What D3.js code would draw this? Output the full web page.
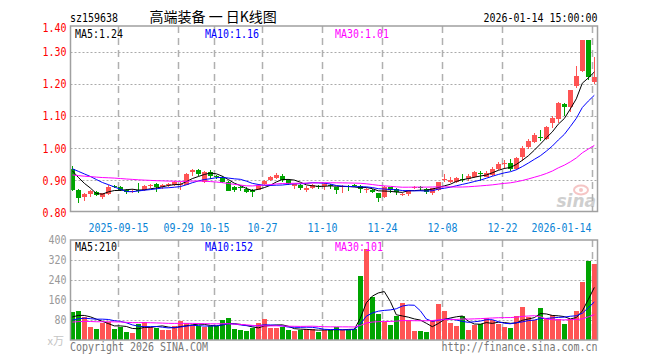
<!DOCTYPE html>
<html lang="zh-CN">
<head>
<meta charset="UTF-8">
<title>高端装备 一 日K线图</title>
<style>
  html, body { margin: 0; padding: 0; background: #fff; }
  svg { display: block; }
  .mono { font-family: "DejaVu Sans Mono", "Liberation Mono", monospace; font-size: 12px; }
</style>
</head>
<body>
<svg id="chart" width="660" height="360"></svg>
<script src="https://d3js.org/d3.v7.min.js"></script>
<script>
// trading days shown on the chart
const dates = [
  "2025-09-03","2025-09-04","2025-09-05","2025-09-08","2025-09-09","2025-09-10","2025-09-11","2025-09-12",
  "2025-09-15","2025-09-16","2025-09-17","2025-09-18","2025-09-19","2025-09-22","2025-09-23","2025-09-24",
  "2025-09-25","2025-09-26","2025-09-29","2025-09-30",
  "2025-10-09","2025-10-10","2025-10-13","2025-10-14","2025-10-15","2025-10-16","2025-10-17","2025-10-20",
  "2025-10-21","2025-10-22","2025-10-23","2025-10-24","2025-10-27","2025-10-28","2025-10-29","2025-10-30","2025-10-31",
  "2025-11-03","2025-11-04","2025-11-05","2025-11-06","2025-11-07","2025-11-10","2025-11-11","2025-11-12",
  "2025-11-13","2025-11-14","2025-11-17","2025-11-18","2025-11-19","2025-11-20","2025-11-21","2025-11-24",
  "2025-11-25","2025-11-26","2025-11-27","2025-11-28",
  "2025-12-01","2025-12-02","2025-12-03","2025-12-04","2025-12-05","2025-12-08","2025-12-09","2025-12-10",
  "2025-12-11","2025-12-12","2025-12-15","2025-12-16","2025-12-17","2025-12-18","2025-12-19","2025-12-22",
  "2025-12-23","2025-12-24","2025-12-25","2025-12-26","2025-12-29","2025-12-30","2025-12-31",
  "2026-01-05","2026-01-06","2026-01-07","2026-01-08","2026-01-09","2026-01-12","2026-01-13","2026-01-14"
];

const opens = [
  0.936,0.871,0.847,0.859,0.863,0.848,0.859,0.882,0.879,0.871,0.864,0.870,0.871,0.881,0.890,0.878,
  0.884,0.884,0.886,0.886,0.925,0.933,0.895,0.927,0.912,0.908,0.895,0.878,0.878,0.873,0.869,0.871,
  0.890,0.900,0.908,0.914,0.900,0.881,0.887,0.871,0.877,0.882,0.881,0.887,0.878,0.878,0.882,0.884,
  0.882,0.869,0.871,0.860,0.847,0.878,0.873,0.854,0.856,0.875,0.879,0.873,0.860,0.870,0.901,0.895,
  0.895,0.905,0.903,0.909,0.924,0.911,0.917,0.934,0.953,0.955,0.936,0.973,1.004,1.019,1.035,1.027,
  1.079,1.091,1.137,1.127,1.193,1.240,1.336,1.205
];
const highs = [
  0.944,0.874,0.862,0.871,0.867,0.862,0.884,0.886,0.882,0.874,0.872,0.891,0.885,0.890,0.892,0.890,
  0.892,0.898,0.895,0.923,0.935,0.936,0.929,0.933,0.917,0.912,0.897,0.882,0.882,0.878,0.872,0.888,
  0.901,0.913,0.922,0.920,0.903,0.890,0.889,0.881,0.890,0.884,0.893,0.890,0.880,0.884,0.884,0.889,
  0.884,0.876,0.874,0.862,0.882,0.880,0.876,0.860,0.871,0.881,0.881,0.877,0.877,0.895,0.920,0.911,
  0.910,0.920,0.920,0.928,0.930,0.930,0.940,0.957,0.963,0.965,0.973,1.007,1.027,1.046,1.058,1.068,
  1.100,1.145,1.139,1.182,1.255,1.336,1.336,1.282
];
const lows = [
  0.867,0.831,0.837,0.847,0.850,0.842,0.855,0.876,0.866,0.856,0.860,0.862,0.866,0.876,0.864,0.874,
  0.878,0.882,0.871,0.884,0.912,0.912,0.893,0.905,0.905,0.893,0.866,0.864,0.866,0.862,0.847,0.869,
  0.884,0.897,0.904,0.895,0.885,0.873,0.870,0.864,0.874,0.873,0.871,0.873,0.856,0.862,0.866,0.879,
  0.862,0.862,0.860,0.834,0.845,0.862,0.855,0.850,0.851,0.873,0.866,0.856,0.855,0.866,0.895,0.891,
  0.893,0.895,0.898,0.906,0.899,0.910,0.915,0.932,0.936,0.928,0.932,0.961,0.996,1.015,1.021,1.025,
  1.062,1.079,1.100,1.112,1.187,1.236,1.211,1.200
];
const closes = [
  0.871,0.845,0.858,0.867,0.855,0.860,0.880,0.879,0.870,0.865,0.868,0.867,0.882,0.886,0.878,0.886,
  0.888,0.895,0.890,0.921,0.933,0.920,0.927,0.912,0.910,0.895,0.868,0.871,0.875,0.865,0.863,0.886,
  0.898,0.910,0.918,0.900,0.888,0.888,0.877,0.876,0.886,0.880,0.888,0.884,0.871,0.882,0.878,0.882,
  0.873,0.874,0.863,0.845,0.878,0.869,0.863,0.858,0.871,0.879,0.876,0.863,0.875,0.895,0.905,0.901,
  0.907,0.901,0.913,0.926,0.920,0.922,0.936,0.951,0.955,0.936,0.969,1.000,1.021,1.042,1.031,1.066,
  1.093,1.141,1.129,1.180,1.224,1.336,1.222,1.222
];
// volume, 万
const volumes = [
  113,117,91,53,44,69,72,44,53,33,29,65,72,53,50,42,
  42,57,77,67,60,57,52,55,58,80,88,45,42,37,50,68,
  84,50,48,53,40,36,40,44,44,33,40,40,51,40,40,44,
  257,363,173,104,72,60,96,149,80,37,37,32,80,144,116,68,
  56,96,40,60,64,88,80,64,53,48,96,132,91,80,130,88,
  102,84,64,83,116,232,316,304
];
// closes / volumes of the 29 sessions before the window (needed for the moving averages)
const priorCloses = [
  0.905,0.910,0.908,0.902,0.900,0.903,0.906,0.911,0.909,0.904,0.907,0.910,0.912,0.905,0.903,
  0.908,0.910,0.906,0.909,0.912,0.925,0.938,0.946,0.950,0.952,0.948,0.950,0.940,0.940
];
const priorVolumes = [
  62,70,58,75,66,72,60,68,74,65,70,63,69,72,66,71,64,68,70,67,
  70,66,72,64,68,85,92,80,90
];

const priceTicks = [0.80, 0.90, 1.00, 1.10, 1.20, 1.30, 1.40];
const volumeTicks = [80, 160, 240, 320, 400];
const tickDates = ["2025-09-15","2025-09-29","2025-10-15","2025-10-27","2025-11-10","2025-11-24","2025-12-08","2025-12-22","2026-01-14"];
const tickLabels = ["2025-09-15","09-29","10-15","10-27","11-10","11-24","12-08","12-22","2026-01-14"];
const maPeriods = [5, 10, 30];
const maColors = ["#000000", "#0000ff", "#ff00ff"];

const svg = d3.select("#chart");
const frameL = 70.5, frameR = 597.5;
const mainTop = 26, mainBottom = 211.5;
const volTop = 240, volBottom = 340;
const red = "#ff5454", green = "#00a400";

const x = d3.scalePoint().domain(dates).range([72.3, 594.3]);
const y = d3.scaleLinear().domain([0.8, 1.4]).range([212.5, 19.5]);
const yv = d3.scaleLinear().domain([0, 400]).range([volBottom, volTop]);

function movingAverage(prior, values, n) {
  const all = prior.concat(values);
  return values.map((_, i) => d3.mean(all.slice(prior.length + i - n + 1, prior.length + i + 1)));
}

function monoText(g, tx, ty, str, color, anchor) {
  return g.append("text")
    .attr("class", "mono")
    .attr("x", tx).attr("y", ty)
    .attr("fill", color)
    .attr("text-anchor", anchor || "start")
    .attr("textLength", str.length * 6)
    .attr("lengthAdjust", "spacingAndGlyphs")
    .text(str);
}

const candles = dates.map((d, i) => ({
  date: d, o: opens[i], h: highs[i], l: lows[i], c: closes[i], v: volumes[i]
}));
const priceMA = maPeriods.map(n => movingAverage(priorCloses, closes, n));
const volMA = maPeriods.map(n => movingAverage(priorVolumes, volumes, n));

// clip paths for both panels
const defs = svg.append("defs");
defs.append("clipPath").attr("id", "clipMain").append("rect")
  .attr("x", frameL).attr("y", mainTop).attr("width", frameR - frameL).attr("height", mainBottom - mainTop);
defs.append("clipPath").attr("id", "clipVol").append("rect")
  .attr("x", frameL).attr("y", volTop).attr("width", frameR - frameL).attr("height", volBottom - volTop);

// header
monoText(svg, 70, 21.5, "sz159638", "#000");
svg.append("text")
  .attr("x", 149.5).attr("y", 21.5)
  .attr("xml:space", "preserve")
  .style("font", "14px 'Noto Sans CJK SC', sans-serif")
  .style("white-space", "pre")
  .attr("fill", "#000")
  .text("高端装备 一 日K线图");
monoText(svg, frameR, 21.5, "2026-01-14 15:00:00", "#000", "end");

// grid: horizontal dotted lines
const grid = svg.append("g");
priceTicks.filter(v => y(v) > mainTop + 2 && y(v) < mainBottom - 2).forEach(v => {
  grid.append("line")
    .attr("x1", frameL).attr("x2", frameR)
    .attr("y1", Math.round(y(v)) + 0.5).attr("y2", Math.round(y(v)) + 0.5)
    .attr("stroke", "#aaa").attr("stroke-dasharray", "2,2");
});
volumeTicks.filter(v => yv(v) > volTop + 2).forEach(v => {
  grid.append("line")
    .attr("x1", frameL).attr("x2", frameR)
    .attr("y1", yv(v) + 0.5).attr("y2", yv(v) + 0.5)
    .attr("stroke", "#aaa").attr("stroke-dasharray", "2,2");
});
// vertical dashed lines at the labelled dates
tickDates.forEach(d => {
  const gx = Math.round(x(d)) - 1.5;
  [[mainTop, mainBottom], [volTop, volBottom]].forEach(([a, b]) => {
    grid.append("line")
      .attr("x1", gx).attr("x2", gx).attr("y1", a).attr("y2", b)
      .attr("stroke", "#b0b0b0").attr("stroke-width", 1.5)
      .attr("stroke-dasharray", "7,5");
  });
});

// sina watermark
const mark = svg.append("g").attr("opacity", 0.6);
mark.append("ellipse").attr("cx", 581).attr("cy", 190).attr("rx", 7).attr("ry", 4.5)
  .attr("fill", "none").attr("stroke", "#f0a0a0").attr("stroke-width", 2);
mark.append("circle").attr("cx", 581).attr("cy", 190).attr("r", 2).attr("fill", "#f0a0a0");
mark.append("text").attr("x", 596).attr("y", 207).attr("text-anchor", "end")
  .style("font", "italic bold 17px 'DejaVu Sans', sans-serif")
  .attr("fill", "#b0b0b0").text("sina");

// candles
const main = svg.append("g").attr("clip-path", "url(#clipMain)");
const cg = main.selectAll("g.candle").data(candles).enter().append("g")
  .attr("class", "candle")
  .attr("shape-rendering", "crispEdges");
cg.append("line")
  .attr("x1", d => Math.round(x(d.date)) + 0.5)
  .attr("x2", d => Math.round(x(d.date)) + 0.5)
  .attr("y1", d => y(d.h)).attr("y2", d => y(d.l))
  .attr("stroke", d => d.c >= d.o ? red : green);
cg.append("rect")
  .attr("x", d => Math.round(x(d.date)) - 2)
  .attr("width", 5)
  .attr("y", d => y(Math.max(d.o, d.c)))
  .attr("height", d => Math.max(1, Math.abs(y(d.o) - y(d.c))))
  .attr("fill", d => d.c >= d.o ? red : green);

// price moving averages
priceMA.forEach((ma, k) => {
  main.append("path")
    .datum(ma)
    .attr("fill", "none")
    .attr("stroke", maColors[k])
    .attr("stroke-width", 1)
    .attr("d", d3.line().x((_, i) => x(dates[i])).y(v => y(v)));
});

// volume bars
const vol = svg.append("g").attr("clip-path", "url(#clipVol)");
vol.selectAll("rect.vbar").data(candles).enter().append("rect")
  .attr("class", "vbar")
  .attr("shape-rendering", "crispEdges")
  .attr("x", d => Math.round(x(d.date)) - 2)
  .attr("width", 5)
  .attr("y", d => yv(d.v))
  .attr("height", d => volBottom - yv(d.v))
  .attr("fill", d => d.c >= d.o ? red : green);
volMA.forEach((ma, k) => {
  vol.append("path")
    .datum(ma)
    .attr("fill", "none")
    .attr("stroke", maColors[k])
    .attr("stroke-width", 1)
    .attr("d", d3.line().x((_, i) => x(dates[i])).y(v => yv(v)));
});

// frames
[[mainTop, mainBottom], [volTop, volBottom]].forEach(([a, b]) => {
  svg.append("rect")
    .attr("x", frameL).attr("y", a)
    .attr("width", frameR - frameL).attr("height", b - a)
    .attr("fill", "none").attr("stroke", "#a0a0a0").attr("stroke-width", 1.5);
});

// price labels (top one is held at the frame edge)
priceTicks.forEach(v => {
  monoText(svg, 66.5, Math.max(y(v), 27.4) + 4.4, v.toFixed(2), "#ff0000", "end");
});
// volume labels
volumeTicks.forEach(v => {
  monoText(svg, 66.5, yv(v) + 4.4, String(v), "#999999", "end");
});
svg.append("text").attr("x", 64).attr("y", 345).attr("text-anchor", "end")
  .style("font", "11px 'Noto Sans CJK SC', sans-serif")
  .attr("fill", "#c4c4c4").text("x万");

// date labels
tickDates.forEach((d, i) => {
  const lx = Math.round(x(d)) - 1.5;
  const half = tickLabels[i].length * 3;
  const cx = Math.min(lx, frameR - 6 - half);
  monoText(svg, cx, 231.8, tickLabels[i], "#0a84d6", "middle");
});

// legends
const last = closes.length - 1;
const legendX = [75, 205, 335];
priceMA.forEach((ma, k) => {
  monoText(svg, legendX[k], 38, `MA${maPeriods[k]}:${ma[last].toFixed(2)}`, maColors[k]);
});
volMA.forEach((ma, k) => {
  monoText(svg, legendX[k], 250.5, `MA${maPeriods[k]}:${Math.round(ma[last])}`, maColors[k]);
});

// footer
monoText(svg, 70, 350.5, "Copyright 2026 SINA.COM", "#777");
monoText(svg, frameR, 350.5, "http://finance.sina.com.cn", "#777", "end");
</script>
</body>
</html>
